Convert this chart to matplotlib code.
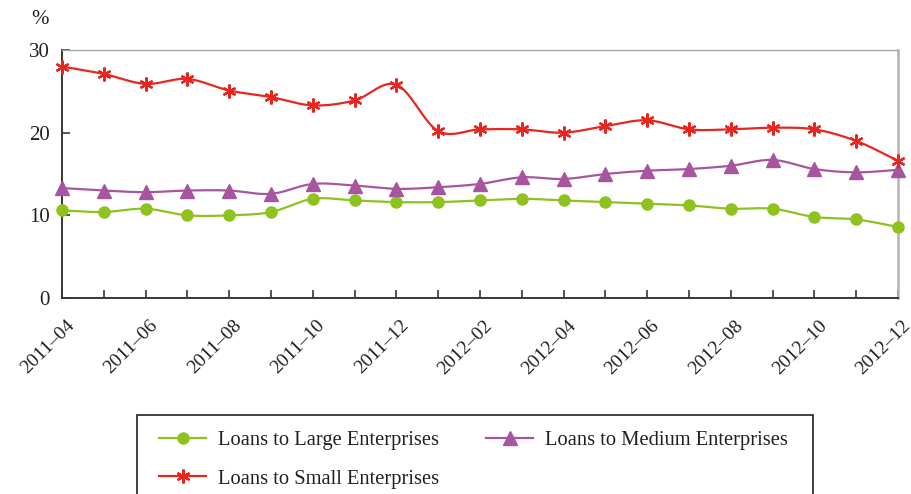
import numpy as np
import matplotlib
matplotlib.use("Agg")
import matplotlib.pyplot as plt
from matplotlib.patches import Rectangle
from matplotlib.lines import Line2D
import matplotlib.transforms as mtransforms

# Monthly loan growth by enterprise size, %
months = ["2011-04", "2011-05", "2011-06", "2011-07", "2011-08", "2011-09",
          "2011-10", "2011-11", "2011-12", "2012-01", "2012-02", "2012-03",
          "2012-04", "2012-05", "2012-06", "2012-07", "2012-08", "2012-09",
          "2012-10", "2012-11", "2012-12"]
large = [10.6, 10.4, 10.8, 10.0, 10.0, 10.4, 12.0, 11.8, 11.6, 11.6, 11.8,
         12.0, 11.8, 11.6, 11.4, 11.2, 10.8, 10.8, 9.8, 9.5, 8.6]
medium = [13.3, 13.0, 12.8, 13.0, 13.0, 12.6, 13.8, 13.6, 13.2, 13.4, 13.8,
          14.6, 14.4, 15.0, 15.4, 15.6, 16.0, 16.7, 15.6, 15.2, 15.5]
small = [28.0, 27.1, 25.9, 26.5, 25.1, 24.3, 23.3, 23.9, 25.8, 20.2, 20.4,
         20.4, 20.0, 20.8, 21.5, 20.4, 20.4, 20.6, 20.4, 19.0, 16.6]
y_ticks = [0, 10, 20, 30]

GREEN = "#8dc21f"
PURPLE = "#a8559f"
RED = "#e8251f"
TXT = "#231f20"
FONT = "Liberation Serif"

plt.rcParams["font.family"] = [FONT, "DejaVu Serif"]


def smooth(x, y, n=16):
    """Catmull-Rom curve through the given points (for the connecting line)."""
    x = np.asarray(x, float)
    y = np.asarray(y, float)
    px = np.concatenate([[2 * x[0] - x[1]], x, [2 * x[-1] - x[-2]]])
    py = np.concatenate([[2 * y[0] - y[1]], y, [2 * y[-1] - y[-2]]])
    t = np.linspace(0, 1, n, endpoint=False)
    xs, ys = [], []
    for i in range(1, len(px) - 2):
        for p, out in ((px, xs), (py, ys)):
            p0, p1, p2, p3 = p[i - 1], p[i], p[i + 1], p[i + 2]
            out.append(0.5 * ((2 * p1) + (-p0 + p2) * t
                              + (2 * p0 - 5 * p1 + 4 * p2 - p3) * t ** 2
                              + (-p0 + 3 * p1 - 3 * p2 + p3) * t ** 3))
    xs = np.concatenate(xs + [[x[-1]]])
    ys = np.concatenate(ys + [[y[-1]]])
    return xs, ys


W, H = 912, 494
fig = plt.figure(figsize=(W / 100, H / 100), dpi=100)
ax = fig.add_axes([62 / W, 1 - 298 / H, (898 - 62) / W, (298 - 50) / H])

x = np.arange(len(months))
series = [
    (large, GREEN, dict(marker="o", markersize=8), "Loans to Large Enterprises"),
    (medium, PURPLE, dict(marker="^", markersize=10), "Loans to Medium Enterprises"),
    (small, RED, dict(marker=(6, 2, 0), markersize=10, markeredgewidth=1.6),
     "Loans to Small Enterprises"),
]
handles = {}
for vals, col, mk, label in series:
    sx, sy = smooth(x, vals)
    ax.plot(sx, sy, color=col, lw=1.6, zorder=3, clip_on=False)
    ax.plot(x, vals, ls="none", color=col, markeredgecolor=col, zorder=4,
            clip_on=False, **mk)
    handles[label] = Line2D([], [], color=col, lw=1.6, markeredgecolor=col, **mk)

ax.set_xlim(0, len(months) - 1)
ax.set_ylim(0, 30)
ax.set_yticks(y_ticks)
ax.set_xticks(x)
ax.set_xticklabels([m.replace("-", "\u2013") if i % 2 == 0 else ""
                    for i, m in enumerate(months)])

for side in ("left", "bottom"):
    ax.spines[side].set_color("#3a3536")
    ax.spines[side].set_linewidth(1.4)
ax.spines["top"].set_color("#a8a8a8")
ax.spines["top"].set_linewidth(1.0)
ax.spines["right"].set_color("#b4b4b4")
ax.spines["right"].set_linewidth(1.8)

ax.tick_params(axis="both", direction="in", length=6, width=1.2,
               color="#3a3536", labelcolor=TXT)
ax.tick_params(axis="y", labelsize=15, pad=9)
ax.tick_params(axis="x", labelsize=14, pad=18)

offset = mtransforms.ScaledTranslation(7 / 72, 0, fig.dpi_scale_trans)
for lbl in ax.get_xticklabels():
    lbl.set_rotation(45)
    lbl.set_ha("right")
    lbl.set_va("center")
    lbl.set_rotation_mode("anchor")
    lbl.set_transform(lbl.get_transform() + offset)

fig.text(40 / W, 1 - 20 / H, "%", fontsize=15, color=TXT,
         ha="center", va="center")

# legend frame runs past the lower edge of the figure
fig.patches.append(Rectangle((137 / W, -0.05), (813 - 137) / W,
                             1 - 415 / H + 0.05, transform=fig.transFigure,
                             fill=False, edgecolor="#231f20", lw=1.2))
order = ["Loans to Large Enterprises", "Loans to Small Enterprises",
         "Loans to Medium Enterprises"]
fig.legend([handles[k] for k in order], order, loc="upper left",
           bbox_to_anchor=(159 / W, 1 - 431 / H), ncol=2, frameon=False,
           fontsize=14.8, handlelength=2.3, handletextpad=0.55,
           columnspacing=2.3, labelspacing=0.92, borderpad=0,
           borderaxespad=0, labelcolor=TXT)

fig.savefig("out.png", dpi=100)
